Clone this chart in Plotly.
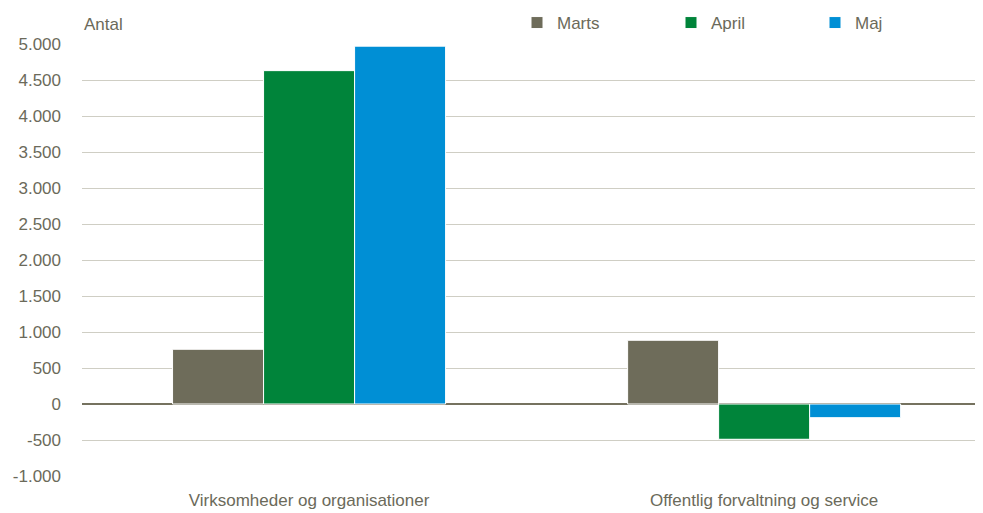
import plotly.graph_objects as go

categories = ["Virksomheder og organisationer", "Offentlig forvaltning og service"]
marts = [760, 885]
april = [4630, -490]
maj = [4970, -190]
tick_vals = [-1000, -500, 0, 500, 1000, 1500, 2000, 2500, 3000, 3500, 4000, 4500, 5000]
tick_text = ["-1.000", "-500", "0", "500", "1.000", "1.500", "2.000", "2.500",
             "3.000", "3.500", "4.000", "4.500", "5.000"]

txt = "#6b6a5a"
font = dict(family="Liberation Sans, Arial, sans-serif", size=17, color=txt)

W, H = 975, 505  # page body adds an 8px offset

fig = go.Figure()
series = [("Marts", marts, "#6e6c5a", "legend"),
          ("April", april, "#00843a", "legend2"),
          ("Maj", maj, "#008fd5", "legend3")]
for name, vals, col, lg in series:
    fig.add_trace(go.Bar(x=[0, 1], y=vals, name=name, marker_color=col,
                         marker_line=dict(color="white", width=1), legend=lg))

leg_y = 1 - 15 / H
leg_common = dict(orientation="h", xref="container", yref="container", yanchor="middle",
                  xanchor="left", font=font, bgcolor="rgba(0,0,0,0)", itemwidth=30)
fig.update_layout(
    width=W, height=H,
    margin=dict(l=74, r=0, t=36, b=37, autoexpand=False),
    plot_bgcolor="white", paper_bgcolor="white",
    font=font,
    barmode="group", bargap=0.4, bargroupgap=0.0,
    showlegend=True,
    legend=dict(x=509 / W, y=leg_y, **leg_common),
    legend2=dict(x=663 / W, y=leg_y, **leg_common),
    legend3=dict(x=807 / W, y=leg_y, **leg_common),
    xaxis=dict(tickvals=[0, 1], ticktext=categories, range=[-0.499, 1.481],
               showgrid=False, zeroline=False, showline=False, ticks="",
               ticklabelstandoff=12, tickfont=font, automargin=False),
    yaxis=dict(range=[-1000, 5000], tickvals=tick_vals, ticktext=tick_text,
               showgrid=True, gridcolor="#cfcec4", gridwidth=1,
               zeroline=True, zerolinecolor="#75725f", zerolinewidth=2,
               showline=False, ticks="", ticklabelstandoff=20, tickfont=font,
               automargin=False),
    annotations=[dict(text="Antal", x=0, y=1 + 20 / 432, xref="paper", yref="paper",
                      xanchor="left", yanchor="middle", showarrow=False, font=font)],
)

fig.write_html("out.html")
